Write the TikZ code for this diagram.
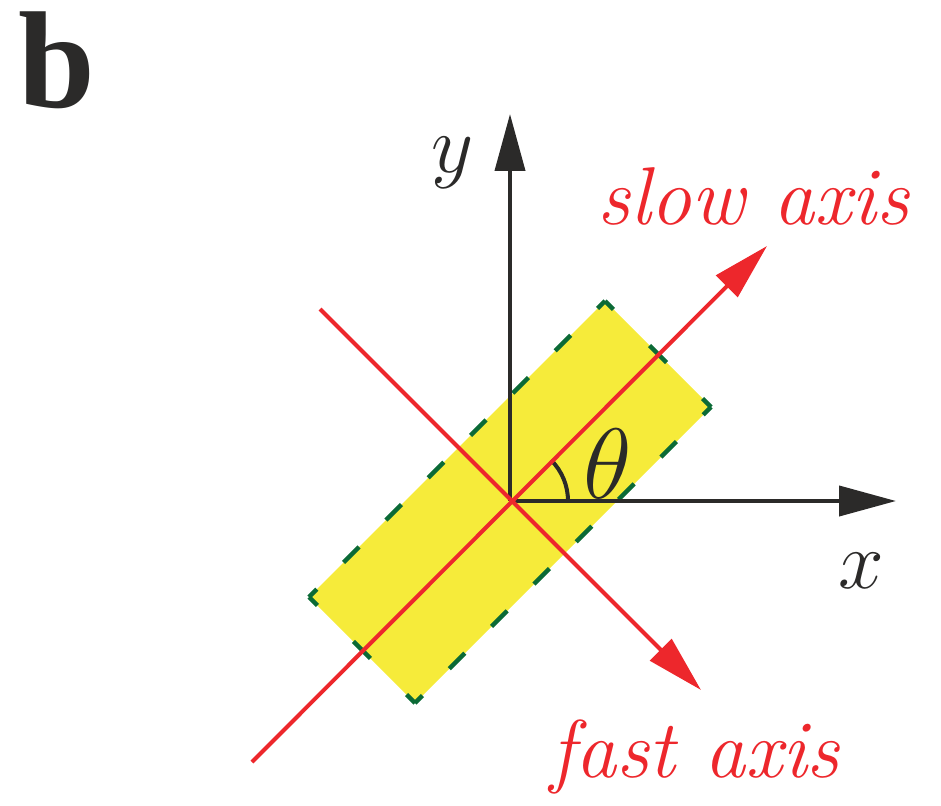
\RequirePackage{fix-cm}
\documentclass[tikz,border=0pt]{standalone}
\usepackage{fontspec}
\newfontfamily\panelfont{Liberation Serif}
\usetikzlibrary{arrows.meta}
\definecolor{axred}{HTML}{ED272C}
\definecolor{axblack}{HTML}{2B2A29}
\definecolor{plateyellow}{HTML}{F6EB3A}
\definecolor{plategreen}{HTML}{0B6A36}
\tikzset{
  axisline/.style={draw=axblack, line width=4pt, -{Triangle[length=57pt,width=30pt]}},
  redline/.style={draw=axred, line width=4pt},
  redarrow/.style={redline, -{Triangle[length=57pt,width=30pt]}},
  shortedge/.style={draw=plategreen, line width=4.5pt, dash pattern=on 24pt off 51pt, dash phase=12pt},
  longedge/.style={draw=plategreen, line width=4.5pt, dash pattern=on 22pt off 37.86pt, dash phase=11pt},
  redlabel/.style={text=axred, font=\fontsize{82}{90}\selectfont\itshape, anchor=base, inner sep=0pt},
  mathlabel/.style={text=axblack, font=\fontsize{82}{90}\selectfont, anchor=base, inner sep=0pt},
}
\begin{document}
\begin{tikzpicture}[x=1pt,y=-1pt]
\useasboundingbox (0,0) rectangle (941,805);
% origin
\coordinate (O) at (510,501);
% plate corners
\coordinate (T) at (605,301);
\coordinate (R) at (711,407);
\coordinate (B) at (415,703);
\coordinate (L) at (309,597);
\fill[plateyellow] (T) -- (R) -- (B) -- (L) -- cycle;
\draw[shortedge] (T) -- (R);
\draw[longedge] (R) -- (B);
\draw[shortedge] (B) -- (L);
\draw[longedge] (L) -- (T);
% axes
\coordinate (ytip) at (510,114);
\coordinate (xtip) at (896,501);
\draw[axisline] (O) -- (ytip);
\draw[axisline] (O) -- (xtip);
% angle arc
\draw[axblack, line width=4pt] ([xshift=58pt]O) arc[start angle=0, end angle=45, radius=58pt];
% slow and fast axes
\coordinate (slowstart) at (252,762);
\coordinate (slowtip) at (767,246);
\coordinate (faststart) at (320,309);
\coordinate (fasttip) at (701,690);
\draw[redarrow] (slowstart) -- (slowtip);
\draw[redarrow] (faststart) -- (fasttip);
% labels
\node[redlabel] (slowlabel) at (753,224) {slow axis};
\node[redlabel] (fastlabel) at (695,777) {fast axis};
\node[mathlabel] (xlabel) at (861,588) {$x$};
\node[mathlabel] (ylabel) at (453,172) {$y$};
\node[mathlabel, font=\fontsize{100}{110}\selectfont] (thetalabel) at (608,498) {$\theta$};
\node[text=axblack, anchor=base, inner sep=0pt, font=\panelfont\fontsize{138}{150}\selectfont\bfseries] (panel) at (57,108) {b};
\end{tikzpicture}
\end{document}
